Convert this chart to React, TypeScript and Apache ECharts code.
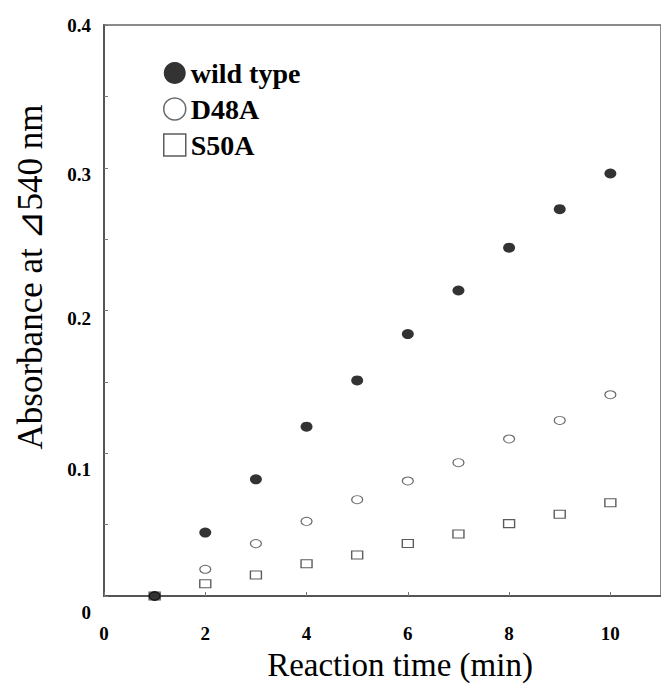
import React, { useEffect, useRef } from "react";
import * as echarts from "echarts";

const times = [1, 2, 3, 4, 5, 6, 7, 8, 9, 10];
const wildType = [0.0, 0.0444, 0.0817, 0.1186, 0.151, 0.1835, 0.214, 0.244, 0.271, 0.296];
const d48a = [0.0, 0.0187, 0.0367, 0.0523, 0.0675, 0.0806, 0.0934, 0.110, 0.123, 0.141];
const s50a = [0.0, 0.0086, 0.0147, 0.0226, 0.0287, 0.0367, 0.0434, 0.0507, 0.0572, 0.0654];
const seriesNames = ["wild type", "D48A", "S50A"];
const xTitle = "Reaction time (min)";
const yTitle = "Absorbance at \u22BF540 nm";

const SERIF = "Liberation Serif";

export default function App() {
  const ref = useRef<HTMLDivElement>(null);
  useEffect(() => {
    document.body.style.margin = "0";
    const chart = echarts.init(ref.current!, null, { renderer: "svg" });
    const pts = (arr: number[]) => times.map((t, i) => [t, arr[i]]);
    const bold = (size: number, pad: number) => ({
      fontFamily: SERIF,
      fontWeight: "bold",
      fontSize: size,
      color: "#000",
      padding: [pad, 0, 0, 0],
    });
    const yRichName: Record<string, string> = { "0": "ya", "0.1": "yb", "0.2": "yc", "0.3": "yd", "0.4": "ye" };
    chart.setOption({
      animation: false,
      grid: {
        left: 104,
        right: -7,
        top: 25,
        bottom: 92,
        show: true,
        borderColor: "#666",
        borderWidth: 1.5,
      },
      legend: {
        orient: "vertical",
        left: 163,
        top: 59,
        padding: 0,
        itemGap: 8,
        itemWidth: 22,
        itemHeight: 22,
        data: seriesNames,
        itemStyle: { borderWidth: 1.5 },
        formatter: (name: string) => "{l|" + name + "}",
        textStyle: {
          rich: { l: { ...bold(28, 0), lineHeight: 28 } },
        },
      },
      xAxis: {
        type: "value",
        min: 0,
        max: 11,
        interval: 2,
        axisLine: { show: true, onZero: false, lineStyle: { color: "#555", width: 2 } },
        axisTick: { show: true, inside: true, length: 4, lineStyle: { color: "#777" } },
        splitLine: { show: false },
        axisLabel: {
          margin: 28,
          showMaxLabel: false,
          formatter: (v: number) => "{x|" + v + "}",
          rich: { x: bold(19, 0) },
        },
      },
      yAxis: {
        type: "value",
        min: 0,
        max: 0.4,
        interval: 0.1,
        axisLine: { show: true, onZero: false, lineStyle: { color: "#555", width: 2 } },
        axisTick: { show: true, inside: true, length: 4, lineStyle: { color: "#777" } },
        minorTick: { show: true, splitNumber: 2, length: 4, lineStyle: { color: "#777" } },
        splitLine: { show: false },
        axisLabel: {
          margin: 13,
          formatter: (v: number) => {
            const s = String(Math.round(v * 10) / 10);
            return "{" + (yRichName[s] || "yc") + "|" + s + "}";
          },
          rich: {
            ya: bold(19, 32),
            yb: bold(19, 32),
            yc: bold(19, 16),
            yd: bold(19, 14),
            ye: bold(19, 0),
          },
        },
      },
      series: [
        {
          name: seriesNames[2],
          type: "scatter",
          symbol: "rect",
          symbolSize: [11, 8],
          data: pts(s50a),
          itemStyle: { color: "#fff", borderColor: "#333", borderWidth: 1.2 },
          z: 2,
        },
        {
          name: seriesNames[1],
          type: "scatter",
          symbol: "circle",
          symbolSize: [11, 8],
          data: pts(d48a),
          itemStyle: { color: "#fff", borderColor: "#444", borderWidth: 1.1 },
          z: 3,
        },
        {
          name: seriesNames[0],
          type: "scatter",
          symbol: "circle",
          symbolSize: [12, 10],
          data: pts(wildType),
          itemStyle: { color: "#000" },
          z: 4,
        },
      ],
      graphic: [
        {
          type: "text",
          x: 400,
          y: 665,
          style: {
            text: xTitle,
            fontFamily: SERIF,
            fontSize: 33,
            fill: "#000",
            align: "center",
            verticalAlign: "middle",
          },
        },
        {
          type: "text",
          x: 30,
          y: 277,
          rotation: Math.PI / 2,
          style: {
            text: yTitle,
            fontFamily: SERIF,
            fontSize: 35,
            fill: "#000",
            align: "center",
            verticalAlign: "middle",
          },
        },
      ],
    });
    return () => chart.dispose();
  }, []);
  return <div ref={ref} style={{ width: 661, height: 688 }} />;
}
